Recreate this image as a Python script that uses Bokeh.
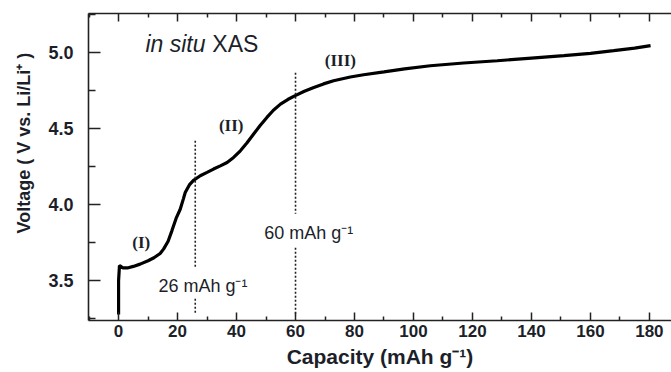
from bokeh.plotting import figure
from bokeh.models import (Range1d, FixedTicker, LinearAxis, Label, Title, PrintfTickFormatter,
                          CustomJSTickFormatter)
from bokeh.embed import file_html
from bokeh.resources import INLINE

# ---- data ----
capacity = [0.0, 0.0, 0.3, 0.6, 1.5, 3.0, 5.0, 7.3, 10.0, 12.0, 14.1, 15.3, 16.8, 18.1,
            19.5, 20.9, 22.0, 22.6, 24.0, 25.4, 27.7, 30.0, 32.2, 34.5, 36.8, 39.0, 41.3,
            43.5, 45.8, 48.0, 50.3, 52.5, 54.9, 57.5, 59.9, 63.0, 66.2, 69.5, 72.9, 78.6,
            83.1, 90.0, 97.0, 105.7, 117.0, 128.4, 140.0, 151.0, 160.0, 167.9, 175.0, 180.4]
voltage = [3.28, 3.50, 3.60, 3.598, 3.585, 3.585, 3.595, 3.61, 3.632, 3.652, 3.68, 3.71,
           3.76, 3.83, 3.91, 3.97, 4.04, 4.08, 4.13, 4.16, 4.19, 4.212, 4.234, 4.255,
           4.277, 4.31, 4.354, 4.405, 4.464, 4.52, 4.573, 4.62, 4.66, 4.692, 4.716, 4.745,
           4.77, 4.793, 4.814, 4.838, 4.853, 4.872, 4.892, 4.912, 4.93, 4.945, 4.962,
           4.978, 4.993, 5.011, 5.028, 5.044]

marker_caps = [26, 60]
marker_top = [4.42, 4.866]
marker_gap_top = [3.585, 3.94]
marker_gap_bottom = [3.382, 3.717]
marker_bottom = [3.29, 3.27]
marker_texts = ["26 mAh g\u207b\u00b9", "60 mAh g\u207b\u00b9"]
marker_text_x = [28.6, 64.5]
marker_text_y = [3.467, 3.815]

region_texts = ["(I)", "(II)", "(III)"]
region_x = [7.7, 38.2, 75.2]
region_y = [3.752, 4.518, 4.945]

x_major = [0, 20, 40, 60, 80, 100, 120, 140, 160, 180]
x_minor = [-10, 10, 30, 50, 70, 90, 110, 130, 150, 170, 190]
y_major = [3.5, 4.0, 4.5, 5.0]
y_minor = [3.25, 3.75, 4.25, 4.75, 5.25]

x_title = "Capacity (mAh g\u207b\u00b9)"
y_title = "Voltage ( V vs. Li/Li\u207a )"

INK = "#1c1f2a"
SANS = "Liberation Sans"
SERIF = "Liberation Serif"

p = figure(width=671, height=372, output_backend="svg", toolbar_location=None,
           x_range=Range1d(-10.2, 187.5), y_range=Range1d(3.24, 5.255),
           x_axis_location=None, y_axis_location=None,
           min_border_left=88, min_border_right=0, min_border_top=13,
           min_border_bottom=52)
p.outline_line_color = None
p.xgrid.visible = False
p.ygrid.visible = False

xt = FixedTicker(ticks=x_major, minor_ticks=x_minor)
yt = FixedTicker(ticks=y_major, minor_ticks=y_minor)

def style(ax, tin, tmin, size):
    ax.axis_line_color = "#222222"
    ax.axis_line_width = 1.6
    ax.major_tick_line_color = "#222222"
    ax.minor_tick_line_color = "#222222"
    ax.major_tick_line_width = 1.5
    ax.minor_tick_line_width = 1.5
    ax.major_tick_out = 0
    ax.minor_tick_out = 0
    ax.major_tick_in = tin
    ax.minor_tick_in = tmin
    ax.major_label_text_font = SANS
    ax.major_label_text_font_style = "bold"
    ax.major_label_text_font_size = size
    ax.major_label_text_color = INK
    ax.axis_label_text_font = SANS
    ax.axis_label_text_font_style = "bold"
    ax.axis_label_text_color = INK

xb = LinearAxis(ticker=xt, axis_label=x_title)
style(xb, 8, 4, "17px")
xb.major_label_standoff = 4
xb.axis_label_standoff = 5
xb.axis_label_text_font_size = "21px"
p.add_layout(xb, "below")

xtop = LinearAxis(ticker=xt, formatter=CustomJSTickFormatter(code="return ''"))
style(xtop, 8, 4, "17px")
xtop.major_label_standoff = 0
p.add_layout(xtop, "above")

yl = LinearAxis(ticker=yt, formatter=PrintfTickFormatter(format="%.1f"))
style(yl, 12, 7, "18px")
yl.major_label_standoff = 15
p.add_layout(yl, "left")

# y-axis title, placed like the reference (starts near 3.8 V and reads upward)
p.add_layout(Title(text=y_title, align="left", offset=87, standoff=20, vertical_align="top",
                   text_font=SANS, text_font_style="bold", text_font_size="18px",
                   text_color=INK), "left")

# curve
p.line(capacity, voltage, line_color="black", line_width=3.2)

# dotted markers
for c, t, gt, gb, b in zip(marker_caps, marker_top, marker_gap_top, marker_gap_bottom, marker_bottom):
    p.line([c, c], [t, gt], line_color="#222222", line_width=1.6, line_dash="2 2")
    p.line([c, c], [gb, b], line_color="#222222", line_width=1.6, line_dash="2 2")

for txt, x, y in zip(marker_texts, marker_text_x, marker_text_y):
    p.add_layout(Label(x=x, y=y, text=txt, text_font=SANS, text_font_size="18px",
                       text_color=INK, text_align="center", text_baseline="middle"))

for txt, x, y in zip(region_texts, region_x, region_y):
    p.add_layout(Label(x=x, y=y, text=txt, text_font=SERIF, text_font_style="bold",
                       text_font_size="17px", text_color=INK, text_align="center",
                       text_baseline="middle"))

# in situ XAS
p.add_layout(Label(x=9.1, y=5.057, text="in situ", text_font=SANS, text_font_style="italic",
                   text_font_size="23px", text_color=INK, text_align="left", text_baseline="middle"))
p.add_layout(Label(x=31.8, y=5.057, text="XAS", text_font=SANS,
                   text_font_size="23px", text_color=INK, text_align="left", text_baseline="middle"))

open("out.html", "w").write(file_html(p, INLINE))
